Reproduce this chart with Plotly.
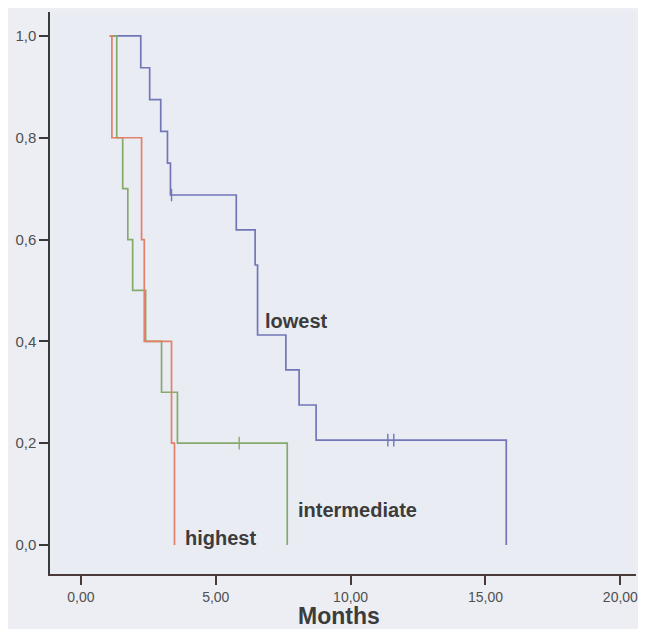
import plotly.graph_objects as go

# Kaplan-Meier step data (months, cumulative survival)
lowest_time = [1.07, 2.22, 2.55, 2.96, 3.21, 3.32, 5.76, 6.46, 6.55, 7.60, 8.09, 8.72, 15.77]
lowest_surv = [1.0, 0.9375, 0.875, 0.8125, 0.75, 0.6875, 0.619, 0.55, 0.4125, 0.344, 0.275, 0.206, 0.0]
lowest_cens_time = [3.36, 11.38, 11.60]
lowest_cens_surv = [0.6875, 0.206, 0.206]

intermediate_time = [1.07, 1.33, 1.55, 1.74, 1.92, 2.40, 2.99, 3.58, 7.65]
intermediate_surv = [1.0, 0.8, 0.7, 0.6, 0.5, 0.4, 0.3, 0.2, 0.0]
intermediate_cens_time = [5.87]
intermediate_cens_surv = [0.2]

highest_time = [1.07, 1.15, 2.25, 2.35, 3.36, 3.47]
highest_surv = [1.0, 0.8, 0.6, 0.4, 0.2, 0.0]

x_ticks = [0, 5, 10, 15, 20]
x_ticktext = ["0,00", "5,00", "10,00", "15,00", "20,00"]
y_ticks = [0, 0.2, 0.4, 0.6, 0.8, 1.0]
y_ticktext = ["0,0", "0,2", "0,4", "0,6", "0,8", "1,0"]

BLUE = "#7276b8"
GREEN = "#86aa6c"
RED = "#e2806a"
TXT = "#3c3c3c"
FONT = "Liberation Sans, Arial, sans-serif"

fig = go.Figure()

def add_curve(t, s, color):
    fig.add_trace(go.Scatter(x=t, y=s, mode="lines", line=dict(color=color, width=1.7, shape="hv"),
                             showlegend=False, hoverinfo="skip"))

def add_cens(t, s, color):
    fig.add_trace(go.Scatter(x=t, y=s, mode="markers",
                             marker=dict(symbol="line-ns", size=9, line=dict(color=color, width=1.4)),
                             showlegend=False, hoverinfo="skip"))

add_curve(lowest_time, lowest_surv, BLUE)
add_cens(lowest_cens_time, lowest_cens_surv, BLUE)
add_curve(intermediate_time, intermediate_surv, GREEN)
add_cens(intermediate_cens_time, intermediate_cens_surv, GREEN)
add_curve(highest_time, highest_surv, RED)

labels = [("lowest", 7.98, 0.440), ("intermediate", 10.27, 0.069), ("highest", 5.17, 0.014)]
for txt, lx, ly in labels:
    fig.add_annotation(x=lx, y=ly, text="<b>%s</b>" % txt, showarrow=False,
                       font=dict(family=FONT, size=20, color=TXT), xanchor="center", yanchor="middle")

fig.add_annotation(x=9.57, y=-0.074, xref="x", yref="paper", text="<b>Months</b>", showarrow=False,
                   font=dict(family=FONT, size=23, color=TXT), xanchor="center", yanchor="middle")

fig.update_layout(
    width=630, height=621,
    margin=dict(l=42, r=0, t=4, b=55),
    paper_bgcolor="#eceef4", plot_bgcolor="#eaecf4",
    font=dict(family=FONT, size=15, color="#505050"),
    xaxis=dict(range=[-1.145, 20.58], tickvals=x_ticks, ticktext=x_ticktext,
               showgrid=False, zeroline=False, showline=True, linecolor="#4a3a3a", linewidth=1.5,
               ticks="outside", ticklen=9, tickcolor="#4a3a3a", tickwidth=1.5,
               ticklabeloverflow="allow",
               tickfont=dict(size=14, color="#505050")),
    yaxis=dict(range=[-0.057, 1.047], tickvals=y_ticks, ticktext=y_ticktext,
               showgrid=False, zeroline=False, showline=True, linecolor="#3a3a3a", linewidth=1.5,
               ticks="outside", ticklen=9, tickcolor="#3a3a3a", tickwidth=1.5,
               tickfont=dict(size=15, color="#505050")),
)

fig.write_html("out.html")
